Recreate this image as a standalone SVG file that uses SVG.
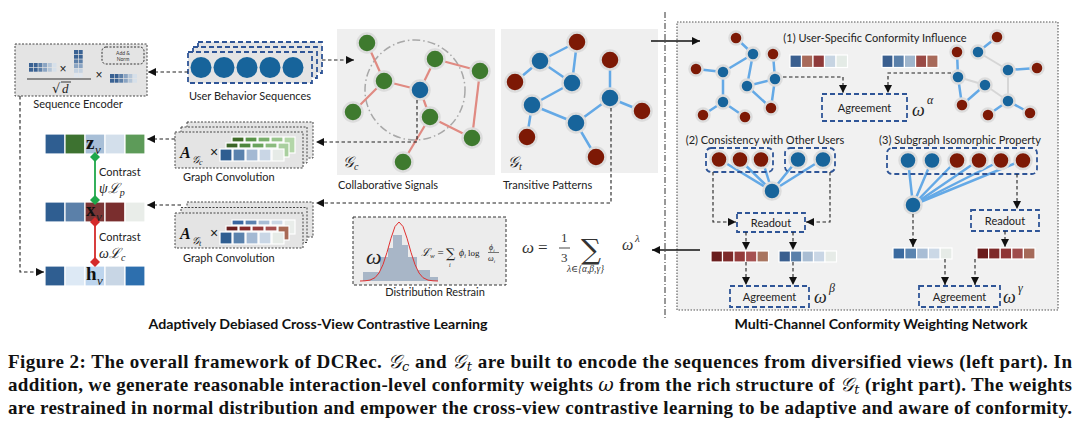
<svg xmlns="http://www.w3.org/2000/svg" width="1080" height="424" viewBox="0 0 1080 424">
<defs>
<marker id="ah" viewBox="0 0 10 10" refX="10" refY="5" markerWidth="8" markerHeight="8" markerUnits="userSpaceOnUse" orient="auto"><path d="M0,0L10,5L0,10z" fill="#111"/></marker>
<style>
.lbl{font-family:Lato,"Open Sans","Liberation Sans",sans-serif;font-size:11px;fill:#222}
.sm{font-family:Lato,"Open Sans","Liberation Sans",sans-serif;font-size:5px;fill:#333}
.dash{fill:none;stroke:#222;stroke-width:1.1;stroke-dasharray:3.5 2.5}
.solid{fill:none;stroke:#111;stroke-width:1.5}
.bluebox{fill:none;stroke:#2f5597;stroke-width:1.8;stroke-dasharray:5 3}
.dotbox{fill:#e4e4e4;stroke:#444;stroke-width:1;stroke-dasharray:2 1.5}
.nb{fill:#17649b;stroke:#dcdcdc;stroke-width:2.5}
.nr{fill:#7d1905;stroke:#dcdcdc;stroke-width:2.5}
.ng{fill:#3e7a2e;stroke:#dcdcdc;stroke-width:2.5}
.ep{stroke:#e08a82;stroke-width:2.2}
.eb{stroke:#64a9e6;stroke-width:2.5;stroke-linecap:round}
.ef{stroke:#d6d6d6;stroke-width:2;stroke-linecap:round}
.cell{stroke:#fff;stroke-width:1.2}
.math{font-family:"Liberation Serif","DejaVu Serif",serif;font-style:italic;fill:#222}
.vlab{font-family:"Liberation Serif",serif;font-weight:bold;font-size:19px;fill:#111}
.hdr{font-family:Lato,"Open Sans","Liberation Sans",sans-serif;font-weight:bold;font-size:13px;fill:#111}
.cap{font-family:"Liberation Serif","DejaVu Serif",serif;font-weight:bold;font-size:19px;fill:#111}
.g{font-family:"DejaVu Serif","DejaVu Sans",serif;font-weight:normal;font-style:italic}
</style>
</defs>
<rect width="1080" height="424" fill="#fff"/>

<!-- divider -->
<line x1="665" y1="12" x2="665" y2="320" stroke="#333" stroke-width="1" stroke-dasharray="6 2 1 2"/>

<!-- Sequence Encoder -->
<g id="seq-encoder">
<rect x="15" y="44" width="132" height="52" class="dotbox"/>
<rect x="102" y="47" width="42" height="17" rx="4" fill="none" stroke="#333" stroke-width="1" stroke-dasharray="2 1.5"/>
<text class="sm" x="123" y="54.5" text-anchor="middle">Add &amp;</text>
<text class="sm" x="123" y="61" text-anchor="middle">Norm</text>
<g>
<rect x="29" y="63" width="4" height="4" fill="#3a6293"/><rect x="33.7" y="63" width="4" height="4" fill="#3a6293"/><rect x="38.4" y="63" width="4" height="4" fill="#5c7fa8"/><rect x="43.1" y="63" width="4" height="4" fill="#8aa4c2"/><rect x="47.8" y="63" width="4" height="4" fill="#b4c5d8"/><rect x="52.5" y="63" width="4" height="4" fill="#d6e0ea"/>
<rect x="29" y="67.7" width="4" height="4" fill="#3a6293"/><rect x="33.7" y="67.7" width="4" height="4" fill="#3a6293"/><rect x="38.4" y="67.7" width="4" height="4" fill="#5c7fa8"/><rect x="43.1" y="67.7" width="4" height="4" fill="#8aa4c2"/><rect x="47.8" y="67.7" width="4" height="4" fill="#b4c5d8"/><rect x="52.5" y="67.7" width="4" height="4" fill="#d6e0ea"/>
</g>
<text x="63" y="73" font-family="Liberation Sans,sans-serif" font-size="12" fill="#222" text-anchor="middle">×</text>
<g>
<rect x="74" y="50" width="4" height="4" fill="#3a6293"/><rect x="78.7" y="50" width="4" height="4" fill="#3a6293"/>
<rect x="74" y="54.7" width="4" height="4" fill="#3a6293"/><rect x="78.7" y="54.7" width="4" height="4" fill="#3a6293"/>
<rect x="74" y="59.4" width="4" height="4" fill="#5c7fa8"/><rect x="78.7" y="59.4" width="4" height="4" fill="#5c7fa8"/>
<rect x="74" y="64.1" width="4" height="4" fill="#8aa4c2"/><rect x="78.7" y="64.1" width="4" height="4" fill="#8aa4c2"/>
<rect x="74" y="68.8" width="4" height="4" fill="#c4d2e1"/><rect x="78.7" y="68.8" width="4" height="4" fill="#c4d2e1"/>
<rect x="74" y="73.5" width="4" height="4" fill="#dfe6ee"/><rect x="78.7" y="73.5" width="4" height="4" fill="#dfe6ee"/>
</g>
<line x1="27" y1="79" x2="91" y2="79" stroke="#333" stroke-width="1"/>
<text x="52" y="93" font-family="DejaVu Serif,serif" font-size="13" fill="#222">√</text>
<line x1="61" y1="82" x2="71" y2="82" stroke="#222" stroke-width="0.9"/>
<text class="math" x="62" y="93" font-size="13">d</text>
<text x="99" y="79" font-family="Liberation Sans,sans-serif" font-size="12" fill="#222" text-anchor="middle">×</text>
<g>
<rect x="110" y="74" width="4" height="4" fill="#3a6293"/><rect x="114.6" y="74" width="4" height="4" fill="#3a6293"/><rect x="119.2" y="74" width="4" height="4" fill="#5c7fa8"/><rect x="123.8" y="74" width="4" height="4" fill="#8aa4c2"/><rect x="128.4" y="74" width="4" height="4" fill="#b4c5d8"/><rect x="133" y="74" width="4" height="4" fill="#d6e0ea"/>
<rect x="110" y="78.7" width="4" height="4" fill="#3a6293"/><rect x="114.6" y="78.7" width="4" height="4" fill="#3a6293"/><rect x="119.2" y="78.7" width="4" height="4" fill="#5c7fa8"/><rect x="123.8" y="78.7" width="4" height="4" fill="#8aa4c2"/><rect x="128.4" y="78.7" width="4" height="4" fill="#b4c5d8"/><rect x="133" y="78.7" width="4" height="4" fill="#d6e0ea"/>
</g>
<text class="lbl" x="78" y="108" text-anchor="middle">Sequence Encoder</text>
</g>

<!-- User Behavior Sequences -->
<g id="user-seq">
<rect x="198" y="42" width="124" height="31" class="bluebox" style="fill:#e4e4e4"/>
<rect x="193" y="47" width="124" height="31" class="bluebox" style="fill:#e4e4e4"/>
<rect x="188" y="52" width="124" height="31" class="bluebox" style="fill:#e4e4e4"/>
<circle cx="201" cy="67.5" r="10.5" fill="#17649b"/>
<circle cx="224" cy="67.5" r="10.5" fill="#17649b"/>
<circle cx="247" cy="67.5" r="10.5" fill="#17649b"/>
<circle cx="270" cy="67.5" r="10.5" fill="#17649b"/>
<circle cx="293" cy="67.5" r="10.5" fill="#17649b"/>
<text class="lbl" x="250" y="100" text-anchor="middle">User Behavior Sequences</text>
</g>

<!-- Gc panel -->
<g id="gc-panel">
<rect x="337" y="29" width="158" height="146" fill="#efefef"/>
<circle cx="415" cy="90" r="50" fill="none" stroke="#a8a8a8" stroke-width="1.5" stroke-dasharray="8 3 1.5 3"/>
<g class="ep">
<line x1="367" y1="43" x2="384" y2="81"/><line x1="384" y1="81" x2="353" y2="112"/><line x1="384" y1="81" x2="420" y2="90"/>
<line x1="420" y1="90" x2="435" y2="59"/><line x1="435" y1="59" x2="480" y2="71"/><line x1="480" y1="71" x2="472" y2="138"/>
<line x1="420" y1="90" x2="430" y2="117"/><line x1="430" y1="117" x2="472" y2="138"/><line x1="430" y1="117" x2="403" y2="162"/>
</g>
<circle cx="367" cy="43" r="9.5" class="ng"/><circle cx="384" cy="81" r="9.5" class="ng"/><circle cx="353" cy="112" r="9.5" class="ng"/>
<circle cx="435" cy="59" r="9.5" class="ng"/><circle cx="480" cy="71" r="9.5" class="ng"/><circle cx="430" cy="117" r="9.5" class="ng"/>
<circle cx="472" cy="138" r="9.5" class="ng"/><circle cx="403" cy="162" r="9.5" class="ng"/>
<circle cx="420" cy="90" r="9.5" class="nb"/>
<text x="343" y="167" font-size="15" fill="#222"><tspan class="g">𝒢</tspan><tspan class="math" font-size="10" dy="3">c</tspan></text>
<text class="lbl" x="338" y="189">Collaborative Signals</text>
</g>

<!-- Gt panel -->
<g id="gt-panel">
<rect x="501" y="29" width="157" height="144" fill="#efefef"/>
<g class="eb">
<line x1="577" y1="42" x2="540" y2="61"/><line x1="540" y1="61" x2="515" y2="82"/><line x1="540" y1="61" x2="572" y2="83"/>
<line x1="577" y1="42" x2="572" y2="83"/><line x1="572" y1="83" x2="532" y2="105"/><line x1="532" y1="105" x2="576" y2="123"/>
<line x1="532" y1="105" x2="527" y2="137"/><line x1="576" y1="123" x2="610" y2="98"/><line x1="576" y1="123" x2="596" y2="157"/>
<line x1="610" y1="98" x2="610" y2="60"/><line x1="610" y1="98" x2="642" y2="111"/>
</g>
<circle cx="577" cy="42" r="9.5" class="nr"/><circle cx="515" cy="82" r="9.5" class="nr"/><circle cx="610" cy="60" r="9.5" class="nr"/>
<circle cx="642" cy="111" r="9.5" class="nr"/><circle cx="527" cy="137" r="9.5" class="nr"/><circle cx="596" cy="157" r="9.5" class="nr"/>
<circle cx="540" cy="61" r="9.5" class="nb"/><circle cx="572" cy="83" r="9.5" class="nb"/><circle cx="532" cy="105" r="9.5" class="nb"/>
<circle cx="576" cy="123" r="9.5" class="nb"/><circle cx="610" cy="98" r="9.5" class="nb"/>
<text x="508" y="167" font-size="15" fill="#222"><tspan class="g">𝒢</tspan><tspan class="math" font-size="10" dy="3">t</tspan></text>
<text class="lbl" x="503" y="189">Transitive Patterns</text>
</g>

<!-- Graph convolution Gc -->
<g id="gconv-c">
<rect x="187" y="122" width="126" height="36" class="dotbox"/>
<rect x="181" y="127" width="126" height="36" class="dotbox"/>
<rect x="175" y="132" width="128" height="36" class="dotbox"/>
<text x="180" y="158" font-family="Liberation Serif,serif" font-weight="bold" font-style="italic" font-size="16" fill="#111">A</text>
<text x="192" y="163" font-size="10" fill="#111"><tspan class="g">𝒢</tspan><tspan class="math" font-size="8" dy="2">c</tspan></text>
<text x="214" y="157" font-family="Liberation Sans,sans-serif" font-size="14" fill="#222" text-anchor="middle">×</text>
<g class="cell">
<rect x="232" y="137" width="12" height="5" fill="#3f6b28"/><rect x="245" y="137" width="12" height="5" fill="#5a9449"/><rect x="258" y="137" width="12" height="5" fill="#7aae6c"/><rect x="271" y="137" width="12" height="5" fill="#98c48c"/><rect x="284" y="137" width="11" height="16" fill="#b3d6a8"/>
<rect x="226" y="143" width="12" height="5" fill="#3a6426"/><rect x="239" y="143" width="12" height="5" fill="#4d873c"/><rect x="252" y="143" width="12" height="5" fill="#6aa35c"/><rect x="265" y="143" width="12" height="5" fill="#8bbb7e"/><rect x="278" y="143" width="11" height="14" fill="#a9cf9f"/>
<rect x="220" y="149" width="12" height="12" fill="#2f5e91"/><rect x="233" y="149" width="12" height="12" fill="#5a82ad"/><rect x="246" y="149" width="12" height="12" fill="#a3b9d3"/><rect x="259" y="149" width="12" height="12" fill="#c9d6e5"/><rect x="272" y="149" width="12" height="12" fill="#e6ebe7"/>
</g>
<text class="lbl" x="183" y="181">Graph Convolution</text>
</g>

<!-- Graph convolution Gt -->
<g id="gconv-t">
<rect x="187" y="202" width="126" height="35" class="dotbox"/>
<rect x="181" y="207.5" width="126" height="35" class="dotbox"/>
<rect x="175" y="213" width="128" height="35" class="dotbox"/>
<text x="180" y="239" font-family="Liberation Serif,serif" font-weight="bold" font-style="italic" font-size="16" fill="#111">A</text>
<text x="192" y="244" font-size="10" fill="#111"><tspan class="g">𝒢</tspan><tspan class="math" font-size="8" dy="2">t</tspan></text>
<text x="214" y="238" font-family="Liberation Sans,sans-serif" font-size="14" fill="#222" text-anchor="middle">×</text>
<g class="cell">
<rect x="232" y="220" width="12" height="5" fill="#3a66a0"/><rect x="245" y="220" width="12" height="5" fill="#5b82b0"/><rect x="258" y="220" width="12" height="5" fill="#a8bdd5"/><rect x="271" y="220" width="12" height="5" fill="#cbd8e6"/><rect x="284" y="220" width="11" height="14" fill="#e9edea"/>
<rect x="226" y="226" width="12" height="5" fill="#6b1f1f"/><rect x="239" y="226" width="12" height="5" fill="#862a2a"/><rect x="252" y="226" width="12" height="5" fill="#973b3b"/><rect x="265" y="226" width="12" height="5" fill="#a65050"/><rect x="278" y="226" width="11" height="14" fill="#a86a55"/>
<rect x="220" y="232" width="12" height="12" fill="#2f5e91"/><rect x="233" y="232" width="12" height="12" fill="#5a82ad"/><rect x="246" y="232" width="12" height="12" fill="#a3b9d3"/><rect x="259" y="232" width="12" height="12" fill="#c9d6e5"/><rect x="272" y="232" width="12" height="12" fill="#e6ebe7"/>
</g>
<text class="lbl" x="183" y="262">Graph Convolution</text>
</g>

<!-- left vectors -->
<g id="vec-z" class="cell">
<rect x="45" y="134" width="20" height="20" fill="#2f5e91"/><rect x="65" y="134" width="20" height="20" fill="#3d7230"/><rect x="85" y="134" width="20" height="20" fill="#a8bfd7"/><rect x="105" y="134" width="20" height="20" fill="#d3dfeb"/><rect x="125" y="134" width="20" height="20" fill="#5d9b59"/>
</g>
<g id="vec-x" class="cell">
<rect x="45" y="202" width="20" height="20" fill="#2f5e91"/><rect x="65" y="202" width="20" height="20" fill="#5b80a9"/><rect x="85" y="202" width="20" height="20" fill="#7b3535"/><rect x="105" y="202" width="20" height="20" fill="#7a2e2e"/><rect x="125" y="202" width="20" height="20" fill="#e9ede9"/>
</g>
<g id="vec-h" class="cell">
<rect x="45" y="266" width="20" height="20" fill="#2f5e91"/><rect x="65" y="266" width="20" height="20" fill="#dde9f5"/><rect x="85" y="266" width="20" height="20" fill="#bdd5ee"/><rect x="105" y="266" width="20" height="20" fill="#c8d6e5"/><rect x="125" y="266" width="20" height="20" fill="#2d6fae"/>
</g>

<!-- contrast links -->
<g id="contrast">
<line x1="95" y1="157" x2="95" y2="200" stroke="#1fa84a" stroke-width="1.8"/>
<path d="M95,152L100,157L95,162L90,157z" fill="#1fa84a"/>
<path d="M95,195L100,200L95,205L90,200z" fill="#1fa84a"/>
<line x1="95" y1="222" x2="95" y2="262" stroke="#d42a2a" stroke-width="1.8"/>
<path d="M95,217L100,222L95,227L90,222z" fill="#d42a2a"/>
<path d="M95,257L100,262L95,267L90,262z" fill="#d42a2a"/>
<text class="lbl" x="99" y="176">Contrast</text>
<text class="math" x="99" y="193" font-size="14">ψℒ<tspan font-size="10" dy="3">p</tspan></text>
<text class="lbl" x="99" y="241">Contrast</text>
<text class="math" x="99" y="258" font-size="14">ωℒ<tspan font-size="10" dy="3">c</tspan></text>
</g>

<!-- vector labels -->
<g id="vec-labels">
<text class="vlab" x="86" y="149">z<tspan class="math" font-weight="normal" font-size="13" dx="0.5" dy="5">v</tspan></text>
<text class="vlab" x="86" y="216">x<tspan class="math" font-weight="normal" font-size="13" dx="0.5" dy="5">v</tspan></text>
<text class="vlab" x="86" y="280">h<tspan class="math" font-weight="normal" font-size="13" dx="0.5" dy="5">v</tspan></text>
</g>

<!-- Distribution restrain -->
<g id="dist">
<rect x="353" y="217" width="153" height="68" fill="#ececec" stroke="#333" stroke-width="1" stroke-dasharray="3 2"/>
<path d="M363,281V272H380V257H388V248H393V235H402V245H408V257H417V270H430V277H438V281z" fill="#a8b6c7"/>
<path d="M360,281L365,280.8L370,280.1L375,277.7L379,273L383,264.6L387,252.3L391,238.2L395,226.5L399,222L403,226.5L407,238.2L411,252.3L415,264.6L419,273L423,277.7L428,280.1L433,280.8L438,281" fill="none" stroke="#e03030" stroke-width="1"/>
<text class="math" x="366" y="264" font-size="22">ω</text>
<text class="math" x="421" y="256" font-size="11">ℒ<tspan font-size="7" dy="2">w</tspan><tspan dy="-2" font-style="normal"> = </tspan></text>
<text x="446" y="258" font-family="DejaVu Serif,serif" font-size="13" fill="#222">∑</text>
<text class="math" x="449" y="267" font-size="6">i</text>
<text class="math" x="459" y="256" font-size="10">ϕ<tspan font-size="6" dy="2">i</tspan><tspan dy="-2" font-style="normal" font-size="9"> log</tspan></text>
<text class="math" x="489" y="250" font-size="8">ϕ<tspan font-size="5" dy="1.5">i</tspan></text>
<line x1="488" y1="252.5" x2="499" y2="252.5" stroke="#222" stroke-width="0.6"/>
<text class="math" x="488" y="261" font-size="8">ω<tspan font-size="5" dy="1.5">i</tspan></text>
<text class="lbl" x="435" y="296" text-anchor="middle" font-size="10.5">Distribution Restrain</text>
</g>

<!-- formula -->
<g id="formula">
<text class="math" x="522" y="253" font-size="17" style="fill:#333">ω</text>
<text x="538" y="253" font-family="Liberation Serif,serif" font-size="17" fill="#333">=</text>
<text x="561" y="242" font-family="Liberation Serif,serif" font-size="13" fill="#333">1</text>
<line x1="559" y1="248" x2="570" y2="248" stroke="#333" stroke-width="0.9"/>
<text x="561" y="262" font-family="Liberation Serif,serif" font-size="13" fill="#333">3</text>
<text x="581" y="259" font-family="DejaVu Serif,serif" font-size="28" fill="#333">∑</text>
<text class="math" x="567" y="272" font-size="9.5" style="fill:#333">λ∈{α,β,γ}</text>
<text class="math" x="622" y="250" font-size="16" style="fill:#333">ω</text>
<text class="math" x="635" y="242" font-size="11" style="fill:#333">λ</text>
</g>

<!-- right panel -->
<g id="right-panel">
<rect x="677" y="22" width="381" height="288" fill="#f1f1f1" stroke="#555" stroke-width="1.1" stroke-dasharray="1.5 1.5"/>
</g>

<g id="ch1">
<text class="lbl" x="875" y="42" text-anchor="middle">(1) User-Specific Conformity Influence</text>
<g class="eb">
<line x1="736" y1="38" x2="753" y2="54"/><line x1="753" y1="54" x2="723" y2="72"/><line x1="696" y1="69" x2="723" y2="72"/>
<line x1="723" y1="72" x2="723" y2="102"/><line x1="753" y1="54" x2="747" y2="86"/><line x1="747" y1="86" x2="775" y2="79"/>
<line x1="773" y1="54" x2="775" y2="79"/><line x1="747" y1="86" x2="771" y2="108"/><line x1="775" y1="79" x2="771" y2="108"/>
<line x1="723" y1="102" x2="703" y2="115"/><line x1="723" y1="102" x2="745" y2="117"/>
</g>
<circle cx="736" cy="38" r="6.5" class="nr"/><circle cx="773" cy="54" r="6.5" class="nr"/><circle cx="696" cy="69" r="6.5" class="nr"/>
<circle cx="771" cy="108" r="6.5" class="nr"/><circle cx="703" cy="115" r="6.5" class="nr"/><circle cx="745" cy="117" r="6.5" class="nr"/>
<circle cx="753" cy="54" r="6.5" class="nb"/><circle cx="723" cy="72" r="6.5" class="nb"/><circle cx="775" cy="79" r="6.5" class="nb"/>
<circle cx="747" cy="86" r="6.5" class="nb"/><circle cx="723" cy="102" r="6.5" class="nb"/>
<g class="ef">
<line x1="978" y1="52" x2="1008" y2="70"/><line x1="958" y1="77" x2="985" y2="85"/><line x1="985" y1="85" x2="1008" y2="101"/><line x1="1008" y1="70" x2="1008" y2="101"/>
</g>
<g class="eb">
<line x1="997" y1="37" x2="978" y2="52"/><line x1="957" y1="52" x2="958" y2="77"/><line x1="958" y1="77" x2="962" y2="105"/>
<line x1="985" y1="85" x2="962" y2="105"/><line x1="1008" y1="70" x2="1037" y2="68"/><line x1="1008" y1="101" x2="988" y2="115"/>
<line x1="1008" y1="101" x2="1030" y2="113"/>
</g>
<circle cx="997" cy="37" r="6.5" class="nr"/><circle cx="957" cy="52" r="6.5" class="nr"/><circle cx="1037" cy="68" r="6.5" class="nr"/>
<circle cx="962" cy="105" r="6.5" class="nr"/><circle cx="988" cy="115" r="6.5" class="nr"/><circle cx="1030" cy="113" r="6.5" class="nr"/>
<circle cx="978" cy="52" r="6.5" class="nb"/><circle cx="1008" cy="70" r="6.5" class="nb"/><circle cx="958" cy="77" r="6.5" class="nb"/>
<circle cx="985" cy="85" r="6.5" class="nb"/><circle cx="1008" cy="101" r="6.5" class="nb"/>
<g class="cell">
<rect x="790" y="55" width="11.5" height="12.5" fill="#3a5f8f"/><rect x="801.5" y="55" width="11.5" height="12.5" fill="#a86a5a"/><rect x="813" y="55" width="11.5" height="12.5" fill="#8f3a3a"/><rect x="824.5" y="55" width="11.5" height="12.5" fill="#c6d4e2"/><rect x="836" y="55" width="11.5" height="12.5" fill="#e4ebe6"/>
<rect x="882" y="55" width="11.2" height="12.5" fill="#3a5f8f"/><rect x="893.2" y="55" width="11.2" height="12.5" fill="#5a80aa"/><rect x="904.4" y="55" width="11.2" height="12.5" fill="#9fb5cc"/><rect x="915.6" y="55" width="11.2" height="12.5" fill="#9a4a45"/><rect x="926.8" y="55" width="11.2" height="12.5" fill="#a86a5a"/>
</g>
<rect x="822" y="94" width="85" height="27" class="bluebox"/>
<text class="lbl" x="864.5" y="112" text-anchor="middle">Agreement</text>
<text class="math" x="912" y="116" font-size="18">ω</text>
<text class="math" x="927" y="104" font-size="12">α</text>
</g>

<g id="ch2">
<text class="lbl" x="765" y="144" text-anchor="middle">(2) Consistency with Other Users</text>
<g class="eb">
<line x1="719" y1="159" x2="772" y2="191"/><line x1="739" y1="159" x2="772" y2="191"/><line x1="762" y1="159" x2="772" y2="191"/>
<line x1="798" y1="159" x2="772" y2="191"/><line x1="823" y1="159" x2="772" y2="191"/>
</g>
<rect x="706" y="148" width="67" height="24" rx="5" class="bluebox"/>
<rect x="785" y="148" width="50" height="24" rx="5" class="bluebox"/>
<circle cx="719" cy="159.5" r="8.5" class="nr"/><circle cx="740" cy="159.5" r="8.5" class="nr"/><circle cx="761" cy="159.5" r="8.5" class="nr"/>
<circle cx="798" cy="159.5" r="8.5" class="nb"/><circle cx="823" cy="159.5" r="8.5" class="nb"/>
<circle cx="772" cy="191" r="8.5" class="nb"/>
<rect x="737" y="213" width="68" height="19" class="bluebox"/>
<text class="lbl" x="771" y="227" text-anchor="middle">Readout</text>
<g class="cell">
<rect x="711" y="251" width="11.5" height="11" fill="#6b1f1f"/><rect x="722.5" y="251" width="11.5" height="11" fill="#7e2a2a"/><rect x="734" y="251" width="11.5" height="11" fill="#943b3b"/><rect x="745.5" y="251" width="11.5" height="11" fill="#a65252"/><rect x="757" y="251" width="11.5" height="11" fill="#a97560"/>
<rect x="779" y="251" width="11.5" height="11" fill="#3a5f8f"/><rect x="790.5" y="251" width="11.5" height="11" fill="#5a80aa"/><rect x="802" y="251" width="11.5" height="11" fill="#a9bdd3"/><rect x="813.5" y="251" width="11.5" height="11" fill="#c9d6e5"/><rect x="825" y="251" width="11.5" height="11" fill="#e6ebe7"/>
</g>
<rect x="730" y="286" width="79" height="21" class="bluebox"/>
<text class="lbl" x="769.5" y="301" text-anchor="middle">Agreement</text>
<text class="math" x="814" y="303" font-size="18">ω</text>
<text class="math" x="829" y="292" font-size="12">β</text>
</g>

<g id="ch3">
<text class="lbl" x="960" y="144" text-anchor="middle">(3) Subgraph Isomorphic Property</text>
<g class="eb">
<line x1="908" y1="160" x2="913" y2="205"/><line x1="932" y1="160" x2="913" y2="205"/><line x1="957" y1="160" x2="913" y2="205"/>
<line x1="979" y1="160" x2="913" y2="205"/><line x1="1002" y1="160" x2="913" y2="205"/><line x1="1023" y1="160" x2="913" y2="205"/>
</g>
<rect x="887" y="148" width="150" height="26" rx="5" class="bluebox"/>
<circle cx="908" cy="160.5" r="8.5" class="nb"/><circle cx="932" cy="160.5" r="8.5" class="nb"/>
<circle cx="957" cy="160.5" r="8.5" class="nr"/><circle cx="979" cy="160.5" r="8.5" class="nr"/><circle cx="1001" cy="160.5" r="8.5" class="nr"/><circle cx="1023" cy="160.5" r="8.5" class="nr"/>
<circle cx="913" cy="205" r="8.5" class="nb"/>
<rect x="971" y="210" width="68" height="21" class="bluebox"/>
<text class="lbl" x="1005" y="225" text-anchor="middle">Readout</text>
<g class="cell">
<rect x="893" y="248" width="11.8" height="11" fill="#3a6a9f"/><rect x="904.8" y="248" width="11.8" height="11" fill="#5a84b0"/><rect x="916.6" y="248" width="11.8" height="11" fill="#a8bdd5"/><rect x="928.4" y="248" width="11.8" height="11" fill="#cbd8e6"/><rect x="940.2" y="248" width="11.8" height="11" fill="#e6ebe7"/>
<rect x="977" y="248" width="11.6" height="11" fill="#6b1a1a"/><rect x="988.6" y="248" width="11.6" height="11" fill="#7e2a2a"/><rect x="1000.2" y="248" width="11.6" height="11" fill="#8f3535"/><rect x="1011.8" y="248" width="11.6" height="11" fill="#9f4c4c"/><rect x="1023.4" y="248" width="11.6" height="11" fill="#a56a5a"/>
</g>
<rect x="919" y="286" width="81" height="21" class="bluebox"/>
<text class="lbl" x="959.5" y="301" text-anchor="middle">Agreement</text>
<text class="math" x="1003" y="303" font-size="18">ω</text>
<text class="math" x="1018" y="292" font-size="12">γ</text>
</g>

<!-- connectors -->
<g id="connectors">
<path d="M188,72H148" class="dash" marker-end="url(#ah)"/>
<path d="M322,60H354" class="dash" marker-end="url(#ah)"/>
<path d="M20,96V272H44" class="dash" marker-end="url(#ah)"/>
<path d="M175,139H147" class="dash" marker-end="url(#ah)"/>
<path d="M181,205H147" class="dash" marker-end="url(#ah)"/>
<path d="M417,100V142H316" class="dash" marker-end="url(#ah)"/>
<path d="M611,108V203H316" class="dash" marker-end="url(#ah)"/>
<path d="M651,41H700" class="solid" marker-end="url(#ah)"/>
<path d="M700,250H652" class="solid" marker-end="url(#ah)"/>
<path d="M783,77H843V93" class="dash" marker-end="url(#ah)"/>
<path d="M951,73H888V93" class="dash" marker-end="url(#ah)"/>
<path d="M713,172V222H736" class="dash" marker-end="url(#ah)"/>
<path d="M830,172V222H806" class="dash" marker-end="url(#ah)"/>
<path d="M746,232V250" class="dash" marker-end="url(#ah)"/>
<path d="M793,232V250" class="dash" marker-end="url(#ah)"/>
<path d="M746,262V285" class="dash" marker-end="url(#ah)"/>
<path d="M793,262V285" class="dash" marker-end="url(#ah)"/>
<path d="M1017,174V209" class="dash" marker-end="url(#ah)"/>
<path d="M913,214V247" class="dash" marker-end="url(#ah)"/>
<path d="M1005,231V247" class="dash" marker-end="url(#ah)"/>
<path d="M945,259V285" class="dash" marker-end="url(#ah)"/>
<path d="M975,259V285" class="dash" marker-end="url(#ah)"/>
</g>

<!-- section headers -->
<text class="hdr" x="318" y="329" text-anchor="middle" textLength="339" lengthAdjust="spacingAndGlyphs">Adaptively Debiased Cross-View Contrastive Learning</text>
<text class="hdr" x="881" y="329" text-anchor="middle" textLength="293" lengthAdjust="spacingAndGlyphs">Multi-Channel Conformity Weighting Network</text>

<!-- caption -->
<text class="cap" x="8" y="368" textLength="1064" lengthAdjust="spacing">Figure 2: The overall framework of DCRec. <tspan class="g">𝒢</tspan><tspan class="g" font-size="13" dy="3">c</tspan><tspan dy="-3"> and </tspan><tspan class="g">𝒢</tspan><tspan class="g" font-size="13" dy="3">t</tspan><tspan dy="-3"> are built to encode the sequences from diversified views (left part). In</tspan></text>
<text class="cap" x="8" y="391" textLength="1064" lengthAdjust="spacing">addition, we generate reasonable interaction-level conformity weights <tspan class="g">ω</tspan> from the rich structure of <tspan class="g">𝒢</tspan><tspan class="g" font-size="13" dy="3">t</tspan><tspan dy="-3"> (right part). The weights</tspan></text>
<text class="cap" x="8" y="414" textLength="1064" lengthAdjust="spacing">are restrained in normal distribution and empower the cross-view contrastive learning to be adaptive and aware of conformity.</text>
</svg>
